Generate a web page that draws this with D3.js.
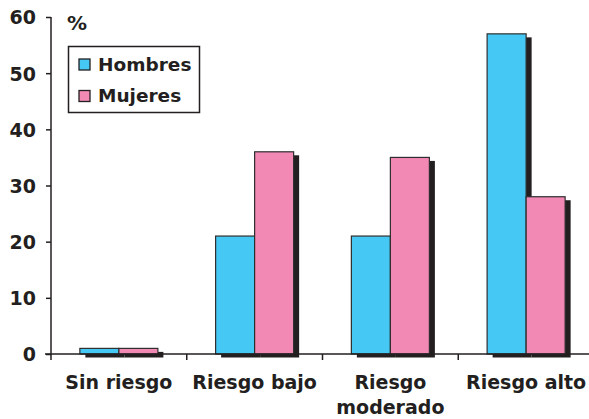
<!DOCTYPE html>
<html>
<head>
<meta charset="utf-8">
<script src="https://cdn.jsdelivr.net/npm/d3@7"></script>
<style>
  html, body { margin: 0; padding: 0; background: #fff; }
  svg text { font-family: "DejaVu Sans", Verdana, sans-serif; font-weight: bold; fill: #231F20; }
</style>
</head>
<body>
<svg id="chart" width="589" height="419"></svg>
<script>
// Prevalence of risk levels by sex (%)
const categories = ["Sin riesgo", "Riesgo bajo", "Riesgo\nmoderado", "Riesgo alto"];
const series = ["Hombres", "Mujeres"];
const hombres = [1, 21, 21, 57];
const mujeres = [1, 36, 35, 28];
const yTicks = [0, 10, 20, 30, 40, 50, 60];
const colors = ["#45C8F3", "#F288B4"];

const svg = d3.select("#chart");
const ink = "#231F20";

const x0 = d3.scaleBand().domain(categories).range([51, 594]).paddingInner(0).paddingOuter(0);
const x1 = d3.scaleBand().domain(series).range([0, x0.bandwidth()]).paddingInner(0).paddingOuter(0.74);
const y = d3.scaleLinear().domain([0, 60]).range([354, 17]);

const rows = categories.map((c, i) => ({ cat: c, values: [hombres[i], mujeres[i]] }));

// drop shadows behind each bar
const shadowDx = 5.5, shadowDy = 3.5;
const groups = svg.append("g");
rows.forEach(r => {
  const g = groups.append("g").attr("transform", `translate(${x0(r.cat)},0)`);
  series.forEach((s, j) => {
    g.append("rect")
      .attr("x", x1(s) + shadowDx)
      .attr("y", y(r.values[j]) + shadowDy)
      .attr("width", x1.bandwidth())
      .attr("height", y(0) - y(r.values[j]))
      .attr("fill", ink);
  });
});

// x axis baseline and separators
svg.append("line")
  .attr("x1", 45).attr("x2", 589)
  .attr("y1", y(0)).attr("y2", y(0))
  .attr("stroke", ink).attr("stroke-width", 1.5);
categories.slice(1).forEach(c => {
  svg.append("line")
    .attr("x1", x0(c)).attr("x2", x0(c))
    .attr("y1", y(0)).attr("y2", y(0) + 6)
    .attr("stroke", ink).attr("stroke-width", 1.5);
});

// bars
rows.forEach(r => {
  const g = groups.append("g").attr("transform", `translate(${x0(r.cat)},0)`);
  series.forEach((s, j) => {
    g.append("rect")
      .attr("x", x1(s))
      .attr("y", y(r.values[j]))
      .attr("width", x1.bandwidth())
      .attr("height", y(0) - y(r.values[j]))
      .attr("fill", colors[j])
      .attr("stroke", "#2E2E2E")
      .attr("stroke-width", 1.2);
  });
});

// y axis
const yAxis = d3.axisLeft(y).tickValues(yTicks).tickSize(5).tickPadding(10).tickFormat(d3.format("d"));
const ya = svg.append("g").attr("transform", "translate(51,0)").call(yAxis);
ya.select(".domain").attr("stroke", ink).attr("stroke-width", 1.5).attr("d", `M0,${y(60)}V${y(0) + 6}`);
ya.selectAll(".tick line").attr("stroke", ink).attr("stroke-width", 1.5);
ya.selectAll(".tick text").style("font-size", "19px").attr("dy", "0.36em").attr("fill", ink);

// unit label
svg.append("text").attr("x", 67).attr("y", 30).style("font-size", "20px").text("%");

// category labels
categories.forEach(c => {
  const lines = c.split("\n");
  const t = svg.append("text")
    .attr("x", x0(c) + x0.bandwidth() / 2)
    .attr("y", 389)
    .attr("text-anchor", "middle")
    .style("font-size", "19px");
  lines.forEach((ln, k) => {
    t.append("tspan").attr("x", x0(c) + x0.bandwidth() / 2).attr("dy", k === 0 ? 0 : 25).text(ln);
  });
});

// legend
const legend = svg.append("g");
legend.append("rect")
  .attr("x", 68.5).attr("y", 46.5).attr("width", 131).attr("height", 66)
  .attr("fill", "#fff").attr("stroke", ink).attr("stroke-width", 1.5);
series.forEach((s, j) => {
  const ly = 59 + j * 31.5;
  legend.append("rect")
    .attr("x", 79).attr("y", ly).attr("width", 11).attr("height", 11)
    .attr("fill", colors[j]).attr("stroke", ink).attr("stroke-width", 1.3);
  legend.append("text")
    .attr("x", 98).attr("y", ly + 11.5)
    .style("font-size", "18.5px")
    .text(s);
});
</script>
</body>
</html>
